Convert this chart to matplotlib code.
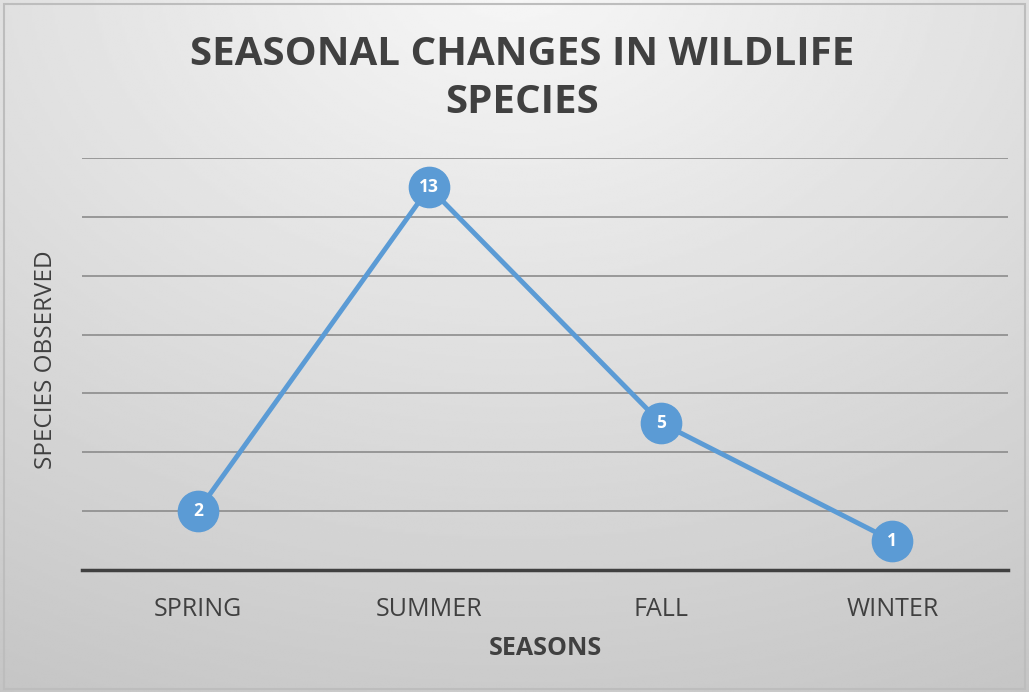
import numpy as np
import matplotlib
matplotlib.use("Agg")
import matplotlib.pyplot as plt
from matplotlib.patches import Rectangle

seasons = ["SPRING", "SUMMER", "FALL", "WINTER"]
species = [2, 13, 5, 1]

plt.rcParams['font.family'] = ['Open Sans', 'DejaVu Sans']

fig = plt.figure(figsize=(10.29, 6.92), dpi=100)

# background gradient
bg = fig.add_axes([0, 0, 1, 1], zorder=0)
yy, xx = np.mgrid[0:1:300j, 0:1:400j]
d = np.sqrt(((xx - 0.5) * 1.1) ** 2 + ((yy - 1.05) * 1.0) ** 2)
shade = 0.97 - 0.2 * np.clip(d, 0, 1.2) / 1.2
bg.imshow(shade, cmap="gray", vmin=0, vmax=1, origin="lower",
          extent=[0, 1, 0, 1], aspect="auto", interpolation="bilinear")
bg.add_patch(Rectangle((0.004, 0.004), 0.992, 0.99, fill=False,
                       edgecolor="#bdbdbd", linewidth=1.5))
bg.set_xlim(0, 1)
bg.set_ylim(0, 1)
bg.axis("off")

ax = fig.add_axes([0.0797, 0.1763, 0.8999, 0.5954], zorder=1)
ax.patch.set_alpha(0)
x = np.arange(len(seasons))
ax.plot(x, species, color="#5B9BD5", linewidth=3.5, zorder=3,
        marker="o", markersize=29, markerfacecolor="#5B9BD5",
        markeredgecolor="#5B9BD5")
for xi, v in zip(x, species):
    ax.text(xi, v, str(v), ha="center", va="center", color="white",
            fontsize=12.5, fontweight="bold", zorder=4)

ax.set_xlim(-0.5, 3.5)
ax.set_ylim(0, 14)
ax.set_yticks(np.arange(0, 15, 2))
ax.yaxis.grid(True, color="#8c8c8c", linewidth=1.2)
ax.set_axisbelow(True)
ax.tick_params(axis="y", left=False, labelleft=False)
ax.tick_params(axis="x", bottom=False, pad=16, labelsize=18, labelcolor="#404040")
ax.set_xticks(x)
ax.set_xticklabels(seasons)
for s in ["top", "right", "left"]:
    ax.spines[s].set_visible(False)
ax.spines["bottom"].set_color("#404040")
ax.spines["bottom"].set_linewidth(2.5)
ax.spines["bottom"].set_zorder(2)

ax.set_xlabel("SEASONS", fontsize=18, fontweight="bold", color="#404040", labelpad=10)
fig.text(0.045, 0.48, "SPECIES OBSERVED", rotation=90, ha="center", va="center",
         fontsize=17.5, color="#404040")
fig.text(0.507, 0.887, "SEASONAL CHANGES IN WILDLIFE\nSPECIES", ha="center", va="center",
         fontsize=29, fontweight="bold", color="#404040", linespacing=1.3)

fig.savefig("out.png", dpi=100)
